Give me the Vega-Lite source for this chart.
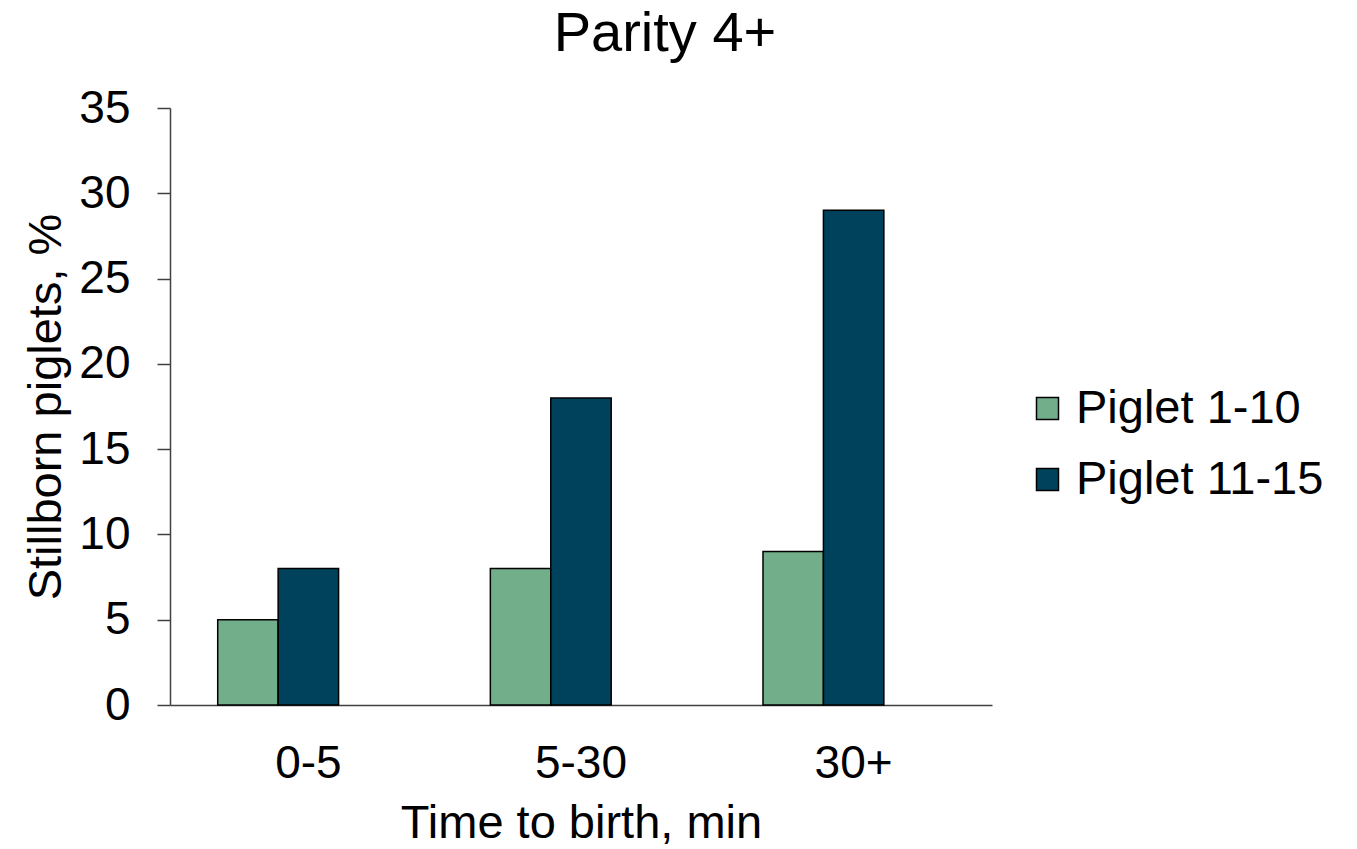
{
  "$schema": "https://vega.github.io/schema/vega-lite/v6.json",
  "width": 822,
  "height": 597,
  "autosize": {"type": "none"},
  "padding": {"left": 170, "top": 108, "right": 365, "bottom": 144},
  "background": "white",
  "config": {"font": "Liberation Sans", "view": {"stroke": null}},
  "title": {"text": "Parity 4+", "fontSize": 56, "fontWeight": "normal", "color": "black", "anchor": "middle", "frame": "group", "dx": 84, "baseline": "alphabetic", "offset": -22},
  "data": {"values": [
    {"time": "0-5", "series": "Piglet 1-10", "value": 5},
    {"time": "0-5", "series": "Piglet 11-15", "value": 8},
    {"time": "5-30", "series": "Piglet 1-10", "value": 8},
    {"time": "5-30", "series": "Piglet 11-15", "value": 18},
    {"time": "30+", "series": "Piglet 1-10", "value": 9},
    {"time": "30+", "series": "Piglet 11-15", "value": 29}
  ]},
  "mark": {"type": "bar", "stroke": "black", "strokeWidth": 1.5},
  "encoding": {
    "x": {"field": "time", "type": "nominal", "sort": ["0-5", "5-30", "30+"],
      "scale": {"paddingInner": 0.335, "paddingOuter": 0.175},
      "axis": {"title": "Time to birth, min", "labelAngle": 0, "labelFontSize": 46, "labelColor": "black", "ticks": false, "tickSize": 0, "labelPadding": 36, "titleFontSize": 47, "titleFontWeight": "normal", "titleColor": "black", "titlePadding": 14, "domainColor": "#404040", "domainWidth": 1.5}},
    "xOffset": {"field": "series", "type": "nominal", "scale": {"domain": ["Piglet 1-10", "Piglet 11-15", "blank"], "paddingInner": 0, "paddingOuter": 0}},
    "y": {"field": "value", "type": "quantitative", "scale": {"domain": [0, 35]},
      "axis": {"title": "Stillborn piglets, %", "values": [0, 5, 10, 15, 20, 25, 30, 35], "grid": false, "tickSize": 13, "tickColor": "#404040", "tickWidth": 1.5, "domainColor": "#404040", "domainWidth": 1.5, "labelFontSize": 46, "labelColor": "black", "labelPadding": 27, "titleFontSize": 47, "titleFontWeight": "normal", "titleColor": "black", "titlePadding": 8}},
    "color": {"field": "series", "type": "nominal",
      "scale": {"domain": ["Piglet 1-10", "Piglet 11-15"], "range": ["#72AE8A", "#00425C"]},
      "legend": {"title": null, "orient": "none", "legendX": 854, "legendY": 277, "symbolType": "square", "symbolSize": 484, "symbolStrokeColor": "black", "symbolStrokeWidth": 1.5, "labelFontSize": 47, "labelLimit": 400, "labelColor": "black", "labelOffset": 5, "rowPadding": 23, "padding": 0}}
  }
}
